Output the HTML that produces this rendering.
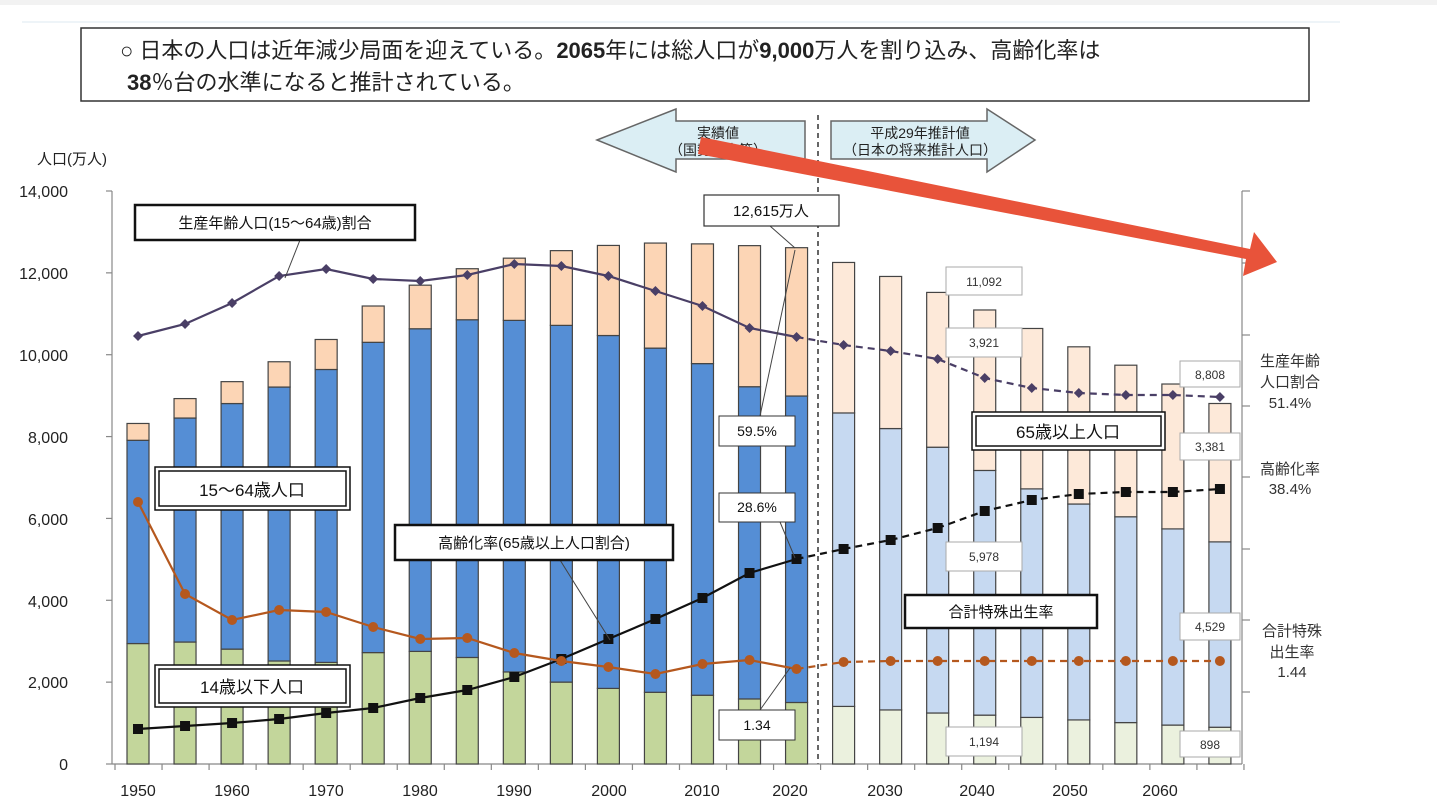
<!DOCTYPE html>
<html><head><meta charset="utf-8"><style>
body{margin:0;background:#fff;}
svg{display:block;font-family:"Liberation Sans","Noto Sans CJK JP",sans-serif;}
</style></head><body>
<svg id="s" width="1437" height="808" viewBox="0 0 1437 808" xmlns="http://www.w3.org/2000/svg">
<rect width="1437" height="808" fill="#fff"/>
<rect x="0" y="0" width="1437" height="5" fill="#f2f2f2"/>
<line x1="22" y1="22" x2="1340" y2="22" stroke="#eef4f8" stroke-width="2"/>
<rect x="81" y="28" width="1228" height="73" fill="#fff" stroke="#333" stroke-width="1.5"/>
<text x="120" y="58" font-size="22" fill="#222">○ 日本の人口は近年減少局面を迎えている。<tspan font-weight="bold">2065</tspan>年には総人口が<tspan font-weight="bold">9,000</tspan>万人を割り込み、高齢化率は</text>
<text x="127" y="90" font-size="22" fill="#222"><tspan font-weight="bold">38</tspan>％台の水準になると推計されている。</text>
<!-- header arrows -->
<polygon points="597,140 676,109 676,121 805,121 805,159 676,159 676,172" fill="#dbeef4" stroke="#666" stroke-width="1.5"/>
<polygon points="1035,140 987,109 987,121 831,121 831,159 987,159 987,172" fill="#dbeef4" stroke="#666" stroke-width="1.5"/>
<text x="718" y="138" font-size="14" text-anchor="middle" fill="#222">実績値</text>
<text x="718" y="155" font-size="14" text-anchor="middle" fill="#222">（国勢調査等）</text>
<text x="920" y="138" font-size="14" text-anchor="middle" fill="#222">平成29年推計値</text>
<text x="920" y="155" font-size="14" text-anchor="middle" fill="#222">（日本の将来推計人口）</text>
<line x1="818" y1="115" x2="818" y2="764" stroke="#333" stroke-width="1.5" stroke-dasharray="5,4"/>
<text x="37" y="164" font-size="15" fill="#222">人口(万人)</text>
<g font-size="16" fill="#222" text-anchor="end">
<text x="68" y="197">14,000</text><text x="68" y="279">12,000</text><text x="68" y="361">10,000</text>
<text x="68" y="443">8,000</text><text x="68" y="525">6,000</text><text x="68" y="607">4,000</text>
<text x="68" y="688">2,000</text><text x="68" y="770">0</text>
</g>
<g id="axes" stroke="#888" stroke-width="1.2">
<line x1="112" y1="191" x2="112" y2="764"/><line x1="112" y1="764" x2="1242" y2="764"/>
<line x1="1242" y1="191" x2="1242" y2="764"/>
</g>
<g font-size="16" fill="#222" text-anchor="middle">
<text x="138" y="796">1950</text><text x="232" y="796">1960</text><text x="326" y="796">1970</text>
<text x="420" y="796">1980</text><text x="514" y="796">1990</text><text x="609" y="796">2000</text>
<text x="702" y="796">2010</text><text x="790" y="796">2020</text><text x="885" y="796">2030</text>
<text x="977" y="796">2040</text><text x="1070" y="796">2050</text><text x="1160" y="796">2060</text>
</g>
<g id="bars"></g>
<g id="lines"></g>
<!-- leader lines -->
<g stroke="#444" stroke-width="1">
<line x1="300" y1="240" x2="285" y2="278"/>
<line x1="770" y1="226" x2="795" y2="248"/>
<line x1="760" y1="416" x2="795" y2="250"/>
<line x1="780" y1="522" x2="795" y2="558"/>
<line x1="760" y1="710" x2="790" y2="668"/>
<line x1="560" y1="560" x2="610" y2="640"/>
</g>
<!-- label boxes -->
<g font-size="15" fill="#111" text-anchor="middle">
<rect x="135" y="205" width="280" height="35" fill="#fff" stroke="#111" stroke-width="2.5"/>
<text x="275" y="228">生産年齢人口(15～64歳)割合</text>
<rect x="155" y="467" width="195" height="43" fill="#fff" stroke="#111" stroke-width="1.5"/>
<rect x="159" y="471" width="187" height="35" fill="none" stroke="#111" stroke-width="1.5"/>
<text x="252" y="496" font-size="17">15～64歳人口</text>
<rect x="155" y="665" width="195" height="42" fill="#fff" stroke="#111" stroke-width="1.5"/>
<rect x="159" y="669" width="187" height="34" fill="none" stroke="#111" stroke-width="1.5"/>
<text x="252" y="693" font-size="17">14歳以下人口</text>
<rect x="395" y="525" width="278" height="35" fill="#fff" stroke="#111" stroke-width="2.5"/>
<text x="534" y="548">高齢化率(65歳以上人口割合)</text>
<rect x="905" y="595" width="192" height="33" fill="#fff" stroke="#111" stroke-width="2.5"/>
<text x="1001" y="617">合計特殊出生率</text>
<rect x="972" y="412" width="193" height="38" fill="#fff" stroke="#111" stroke-width="1.5"/>
<rect x="976" y="416" width="185" height="30" fill="none" stroke="#111" stroke-width="1.5"/>
<text x="1068" y="438" font-size="17">65歳以上人口</text>
<rect x="704" y="195" width="135" height="31" fill="#fff" stroke="#333" stroke-width="1.2"/>
<text x="771" y="216">12,615万人</text>
<g stroke="#333" stroke-width="1" fill="#fff">
<rect x="719" y="416" width="76" height="30"/><rect x="719" y="493" width="76" height="29"/><rect x="719" y="710" width="76" height="30"/>
</g>
<text x="757" y="436" font-size="14">59.5%</text><text x="757" y="512" font-size="14">28.6%</text><text x="757" y="730" font-size="14">1.34</text>
<g stroke="#aaa" stroke-width="1" fill="#fff">
<rect x="946" y="267" width="76" height="28"/><rect x="946" y="328" width="76" height="29"/>
<rect x="946" y="542" width="76" height="29"/><rect x="946" y="727" width="76" height="29"/>
<rect x="1180" y="361" width="60" height="26"/><rect x="1180" y="433" width="60" height="27"/>
<rect x="1180" y="613" width="60" height="27"/><rect x="1180" y="731" width="60" height="26"/>
</g>
<g font-size="12" fill="#333">
<text x="984" y="286">11,092</text><text x="984" y="347">3,921</text><text x="984" y="561">5,978</text><text x="984" y="746">1,194</text>
<text x="1210" y="379">8,808</text><text x="1210" y="451">3,381</text><text x="1210" y="631">4,529</text><text x="1210" y="749">898</text>
</g>
<g font-size="15" fill="#333">
<text x="1290" y="366">生産年齢</text><text x="1290" y="387">人口割合</text><text x="1290" y="408">51.4%</text>
<text x="1290" y="474">高齢化率</text><text x="1290" y="494">38.4%</text>
<text x="1292" y="636">合計特殊</text><text x="1292" y="657">出生率</text><text x="1292" y="677">1.44</text>
</g>
</g>
<!-- red arrow -->
<polygon points="701,137 1250,249 1254,232 1277,262 1243,276 1246,259 698,154" fill="#e8533a"/>
</svg>
<script>
var NS="http://www.w3.org/2000/svg";
function el(p,t,a){var e=document.createElementNS(NS,t);for(var k in a)e.setAttribute(k,a[k]);p.appendChild(e);return e;}
var d=[[2943,4966,411],[2980,5473,475],[2807,6000,535],[2517,6693,618],[2482,7157,733],[2722,7581,887],[2751,7883,1065],[2603,8251,1247],[2249,8590,1520],[2001,8716,1826],[1847,8622,2201],[1752,8409,2567],[1680,8103,2925],[1589,7629,3447],[1503,7488,3624],[1407,7170,3677],[1321,6875,3716],[1246,6494,3782],[1194,5978,3921],[1138,5584,3919],[1077,5275,3841],[1012,5028,3704],[951,4793,3540],[898,4529,3381]];
var k=573/14000,b=document.getElementById('bars'),L=document.getElementById('lines');
function X(i){return 138+47.04*i;}
d.forEach(function(r,i){var fut=i>14;var cols=fut?['#ebf1de','#c6d9f1','#fde9d9']:['#c3d69b','#558ed5','#fcd5b5'];
var base=764;for(var j=0;j<3;j++){var h=r[j]*k;el(b,'rect',{x:X(i)-11,y:base-h,width:22,height:h,fill:cols[j],stroke:'#444','stroke-width':1.2});base-=h;}});
var pr=[336,324,303,276,269,279,281,275,264,266,276,291,306,328,337,345,351,359,378,388,393,395,395,397];
var ag=[729,726,723,719,713,708,698,690,677,659,639,619,598,573,559,549,540,528,511,500,494,492,492,489];
var fe=[502,594,620,610,612,627,639,638,653,661,667,674,664,660,669,662,661,661,661,661,661,661,661,661];
function line(a,c,mk){var p1=[],p2=[];a.forEach(function(y,i){if(i<=14)p1.push(X(i)+','+y);if(i>=14)p2.push(X(i)+','+y);});
el(L,'polyline',{points:p1.join(' '),fill:'none',stroke:c,'stroke-width':2.2});
el(L,'polyline',{points:p2.join(' '),fill:'none',stroke:c,'stroke-width':2.2,'stroke-dasharray':'7,5'});
a.forEach(function(y,i){var x=X(i);if(mk=='d')el(L,'polygon',{points:(x-5)+','+y+' '+x+','+(y-5)+' '+(x+5)+','+y+' '+x+','+(y+5),fill:c});
else if(mk=='s')el(L,'rect',{x:x-5,y:y-5,width:10,height:10,fill:c});else el(L,'circle',{cx:x,cy:y,r:5,fill:c});});}
line(pr,'#4a3f66','d');line(ag,'#111','s');line(fe,'#b5581e','c');
var ax=document.getElementById('axes');
[191,263,335,406,477,549,620,692].forEach(function(y){el(ax,'line',{x1:1242,y1:y,x2:1250,y2:y});});
for(var v=0;v<=14000;v+=2000){var y=764-v*k;el(ax,'line',{x1:106,y1:y,x2:112,y2:y});}
for(var i=0;i<=24;i++){var x=115+47.04*i;el(ax,'line',{x1:x,y1:764,x2:x,y2:770});}
</script>
</body></html>
